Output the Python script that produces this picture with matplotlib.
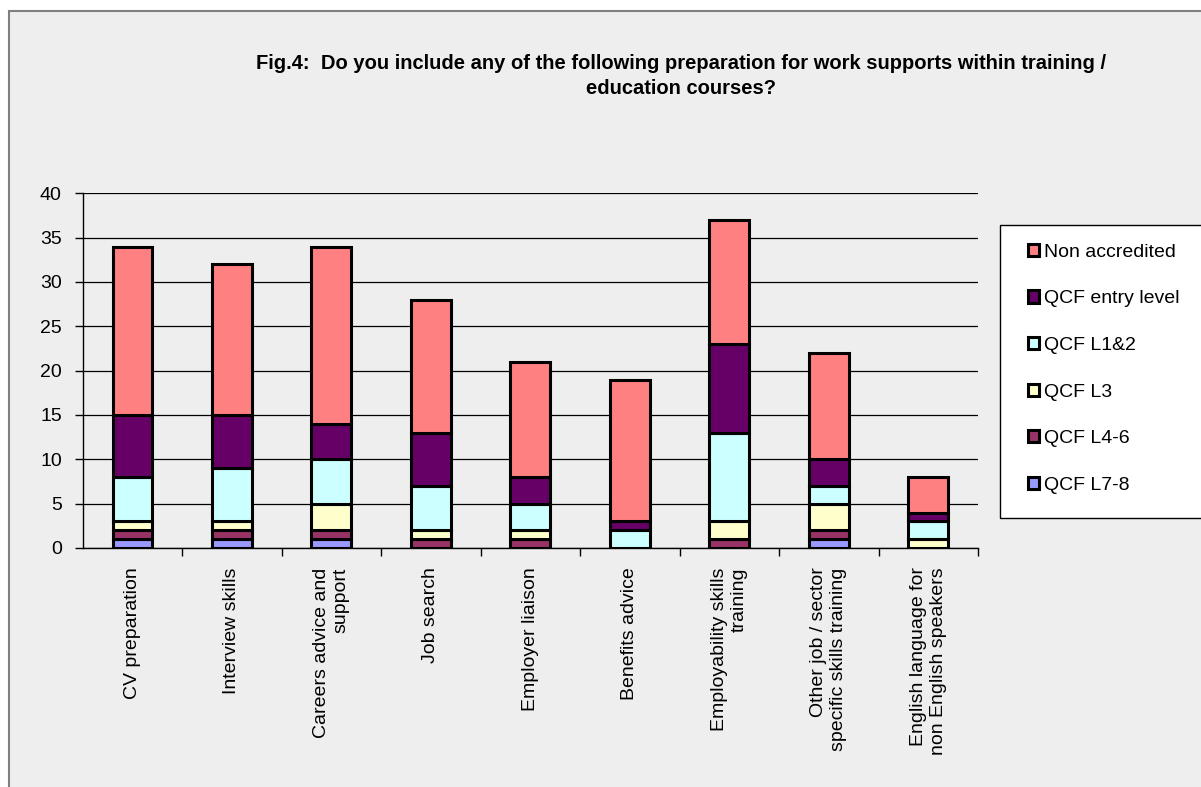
import matplotlib
matplotlib.use("Agg")
import matplotlib.pyplot as plt
from matplotlib.patches import Rectangle
import numpy as np

plt.rcParams['font.family'] = ['Liberation Sans', 'DejaVu Sans']

categories = ["CV preparation", "Interview skills", "Careers advice and\nsupport",
              "Job search", "Employer liaison", "Benefits advice",
              "Employability skills\ntraining", "Other job / sector\nspecific skills training",
              "English language for\nnon English speakers"]

series_names = ["QCF L7-8", "QCF L4-6", "QCF L3", "QCF L1&2", "QCF entry level", "Non accredited"]
l78 = [1, 1, 1, 0, 0, 0, 0, 1, 0]
l46 = [1, 1, 1, 1, 1, 0, 1, 1, 0]
l3 = [1, 1, 3, 1, 1, 0, 2, 3, 1]
l12 = [5, 6, 5, 5, 3, 2, 10, 2, 2]
entry = [7, 6, 4, 6, 3, 1, 10, 3, 1]
nonacc = [19, 17, 20, 15, 13, 16, 14, 12, 4]
colors = ["#9999FF", "#993366", "#FFFFCC", "#CCFFFF", "#660066", "#FF8080"]
yticks = [0, 5, 10, 15, 20, 25, 30, 35, 40]

W, H = 1201, 787
fig = plt.figure(figsize=(W / 100, H / 100), dpi=100)
fig.patch.set_facecolor("white")
bg = Rectangle((9 / W, -0.1), 1.2, (787 - 11) / H + 0.1, transform=fig.transFigure,
               facecolor="#EEEEEE", edgecolor="#808080", linewidth=1.5, zorder=-10)
fig.patches.append(bg)

ax = fig.add_axes([82.7 / W, (787 - 548) / H, (978 - 82.7) / W, (548 - 193.3) / H])
ax.set_zorder(2)
ax.set_facecolor("#EEEEEE")

x = np.arange(len(categories))
data = [l78, l46, l3, l12, entry, nonacc]
bottom = np.zeros(len(categories))
handles = []
for vals, name, c in zip(data, series_names, colors):
    v = np.array(vals, dtype=float)
    b = ax.bar(x, v, 0.4, bottom=bottom, color=c, edgecolor="black", linewidth=2.2,
               label=name, zorder=3)
    handles.append(b)
    bottom += v

ax.set_xlim(-0.5, len(categories) - 0.5)
ax.set_ylim(0, 40)
ax.set_yticks(yticks)
ax.tick_params(axis='y', labelsize=14, length=6, width=1, direction='out', pad=9)
ax.set_xticks(x)
ax.set_xticklabels(categories, rotation=90, fontsize=14, multialignment='right', va='top')
ax.tick_params(axis='x', length=0, pad=14)
ax.set_xticks(np.arange(len(categories)) + 0.5, minor=True)
ax.tick_params(axis='x', which='minor', length=6, width=1, direction='out')
ax.grid(axis='y', color='black', linewidth=0.9, zorder=1)
for s in ['top', 'right']:
    ax.spines[s].set_visible(False)
for s in ['left', 'bottom']:
    ax.spines[s].set_color('black')
    ax.spines[s].set_linewidth(1)

# legend frame
lf = Rectangle((1000 / W, (787 - 518) / H), 0.3, (518 - 225) / H,
               transform=fig.transFigure, facecolor="white",
               edgecolor="black", linewidth=1, zorder=3)
fig.patches.append(lf)
leg = fig.legend(handles[::-1], series_names[::-1], loc='upper left',
                 bbox_to_anchor=(1020 / W, (787 - 236) / H), frameon=False,
                 fontsize=14, handlelength=0.6, handleheight=0.6, handletextpad=0.25,
                 labelspacing=1.52, borderaxespad=0)
leg.set_zorder(5)

fig.text(681 / W, (787 - 76) / H,
         "Fig.4:  Do you include any of the following preparation for work supports within training /\neducation courses?",
         ha='center', va='center', fontsize=14.5, fontweight='bold', linespacing=1.45)

fig.savefig("out.png", dpi=100, facecolor=fig.get_facecolor())
